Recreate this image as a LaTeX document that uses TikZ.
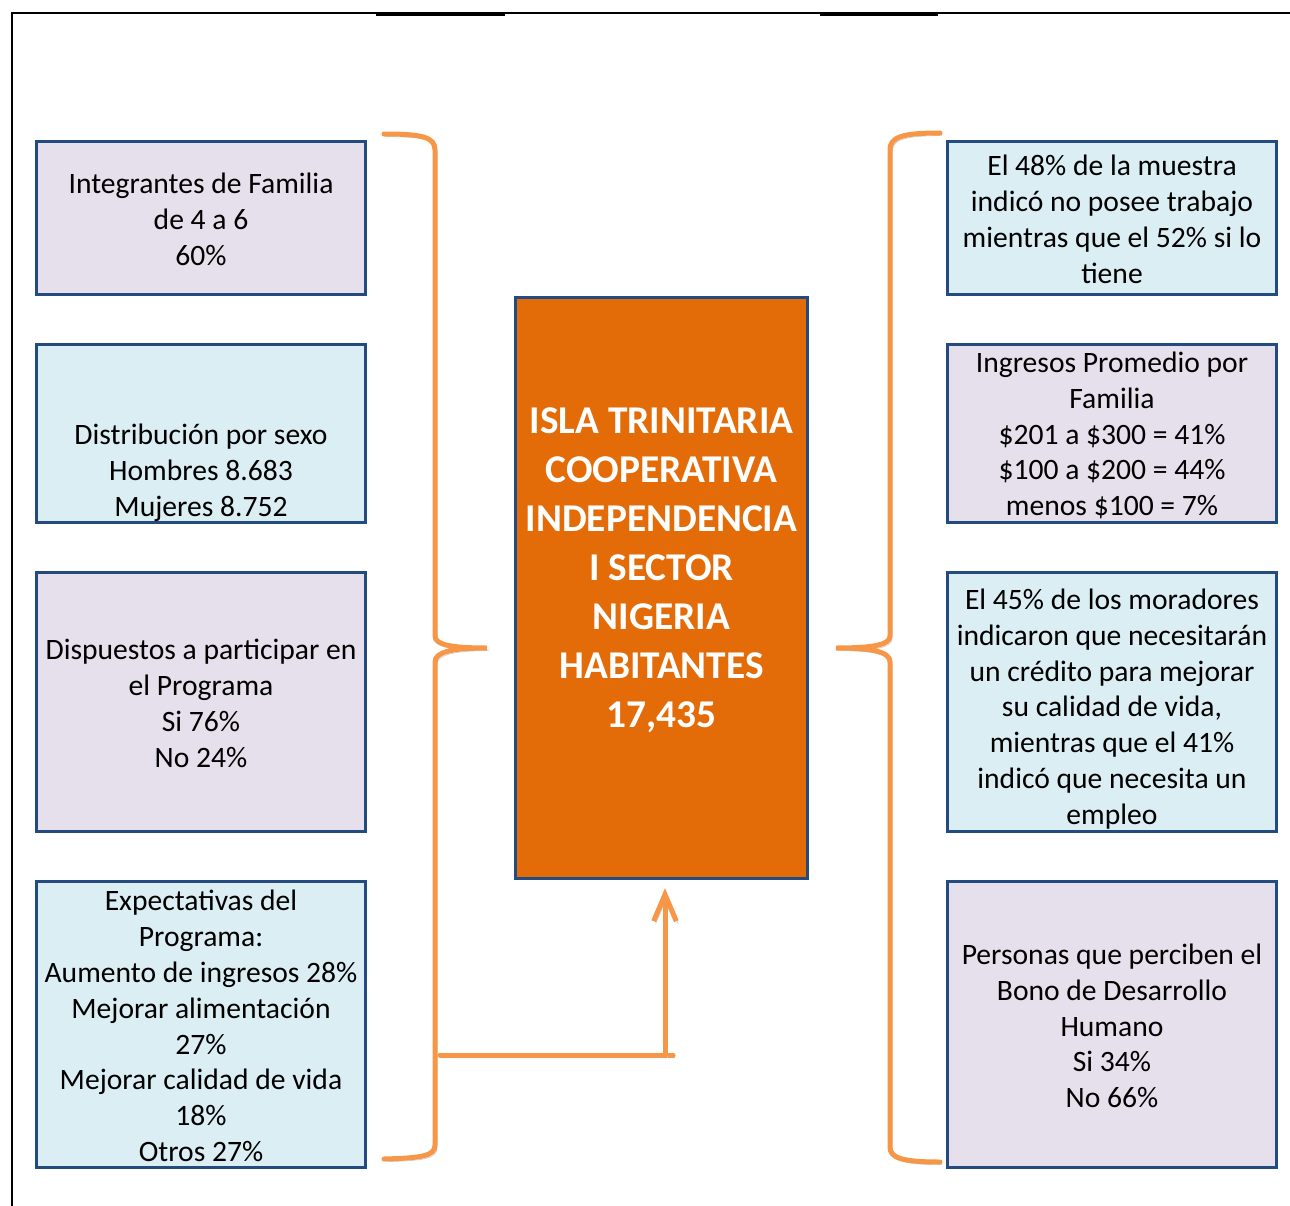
\documentclass[tikz,border=0pt]{standalone}
\usepackage{fontspec}
\setmainfont{Carlito}
\usetikzlibrary{arrows.meta, calc}
\definecolor{boxedge}{RGB}{36,75,127}
\definecolor{lilac}{RGB}{229,224,236}
\definecolor{paleblue}{RGB}{219,238,244}
\definecolor{centreorange}{RGB}{227,108,9}
\definecolor{braceorange}{RGB}{247,150,70}

\begin{document}
\begin{tikzpicture}[x=0.75pt, y=-0.75pt]
			\tikzstyle{infobox}=[
			draw=boxedge,
			line width=2.4pt,
			rectangle,
			inner sep=0pt,
			minimum width=329*0.75pt
			]
			\tikzstyle{lilacbox}=[infobox, fill=lilac]
			\tikzstyle{bluebox}=[infobox, fill=paleblue]
			\tikzstyle{infotext}=[
			align=center,
			font=\fontsize{22.2}{26.85}\selectfont
			]
			\tikzstyle{titletext}=[
			align=center,
			text=white,
			font=\fontsize{29.5}{36.75}\selectfont\bfseries
			]
			\tikzstyle{bracket}=[
			draw=braceorange,
			line width=3.75pt,
			line cap=round,
			preaction={draw=black!22, transform canvas={shift={(1.5pt,-2pt)}}}
			]
			\useasboundingbox (0,0) rectangle (1290,1206);
			% frame
			\draw[line width=1.5pt] (12,1206) -- (12,13) -- (1290,13);
			\draw[line width=2.5pt] (376,14) -- (505,14);
			\draw[line width=2.5pt] (820,14) -- (938,14);
			% left column
			\node[lilacbox, minimum height=153*0.75pt] (L1) at (201,218) {};
			\node[bluebox, minimum height=178*0.75pt] (L2) at (201,433.5) {};
			\node[lilacbox, minimum height=259*0.75pt] (L3) at (201,702) {};
			\node[bluebox, minimum height=286*0.75pt] (L4) at (201,1024.5) {};
			\node[infotext] (tL1) at ($(L1.center)+(0,1.5)$) {Integrantes de Familia\\de 4 a 6\\60\%};
			\node[infotext] (tL2) at ($(L2.center)+(0,39)$) {Distribución por sexo\\Hombres 8.683\\Mujeres 8.752};
			\node[infotext] (tL3) at ($(L3.center)+(0,1.5)$) {Dispuestos a participar en\\el Programa\\Si 76\%\\No 24\%};
			\node[infotext] (tL4) at ($(L4.center)+(0,1.5)$) {Expectativas del\\Programa:\\Aumento de ingresos 28\%\\Mejorar alimentación\\27\%\\Mejorar calidad de vida\\18\%\\Otros 27\%};
			% right column
			\node[bluebox, minimum height=153*0.75pt] (R1) at (1112,218) {};
			\node[lilacbox, minimum height=178*0.75pt] (R2) at (1112,433.5) {};
			\node[bluebox, minimum height=259*0.75pt] (R3) at (1112,702) {};
			\node[lilacbox, minimum height=286*0.75pt] (R4) at (1112,1024.5) {};
			\node[infotext] (tR1) at ($(R1.center)+(0,1.5)$) {El 48\% de la muestra\\indicó no posee trabajo\\mientras que el 52\% si lo\\tiene};
			\node[infotext] (tR2) at ($(R2.center)+(0,2)$) {Ingresos Promedio por\\Familia\\\$201 a \$300 = 41\%\\\$100 a \$200 = 44\%\\menos \$100 = 7\%};
			\node[infotext] (tR3) at ($(R3.center)+(0,7)$) {El 45\% de los moradores\\indicaron que necesitarán\\un crédito para mejorar\\su calidad de vida,\\mientras que el 41\%\\indicó que necesita un\\empleo};
			\node[infotext] (tR4) at ($(R4.center)+(0,1.5)$) {Personas que perciben el\\Bono de Desarrollo\\Humano\\Si 34\%\\No 66\%};
			% centre
			\node[infobox, fill=centreorange, minimum width=292*0.75pt, minimum height=581*0.75pt] (HUB) at (661.5,588) {};
			\node[titletext] (tHUB) at ($(HUB.center)+(0,-18)$) {ISLA TRINITARIA\\COOPERATIVA\\INDEPENDENCIA\\I SECTOR\\NIGERIA\\HABITANTES\\17,435};
			% braces
			\draw[bracket] (384,134) .. controls (422,134) and (435,137) .. (435,150) -- (435,636)
				.. controls (435,645) and (452,648) .. (487,648)
				.. controls (452,648) and (435,652) .. (435,662) -- (435,1145)
				.. controls (435,1156) and (422,1158) .. (384,1159);
			\draw[bracket] (940,133) .. controls (902,133) and (890,137) .. (890,150) -- (890,636)
				.. controls (890,645) and (873,648) .. (836,648)
				.. controls (873,648) and (890,652) .. (890,662) -- (890,1147)
				.. controls (890,1158) and (902,1162) .. (940,1162);
			\coordinate (joint) at (665,1055);
			\draw[bracket] (440,1055) -- (673,1055);
			\draw[bracket, -{Straight Barb[length=20pt, width=17pt]}] (joint) -- ($(HUB.south -| joint)+(0,8)$);
		\end{tikzpicture}
\end{document}
